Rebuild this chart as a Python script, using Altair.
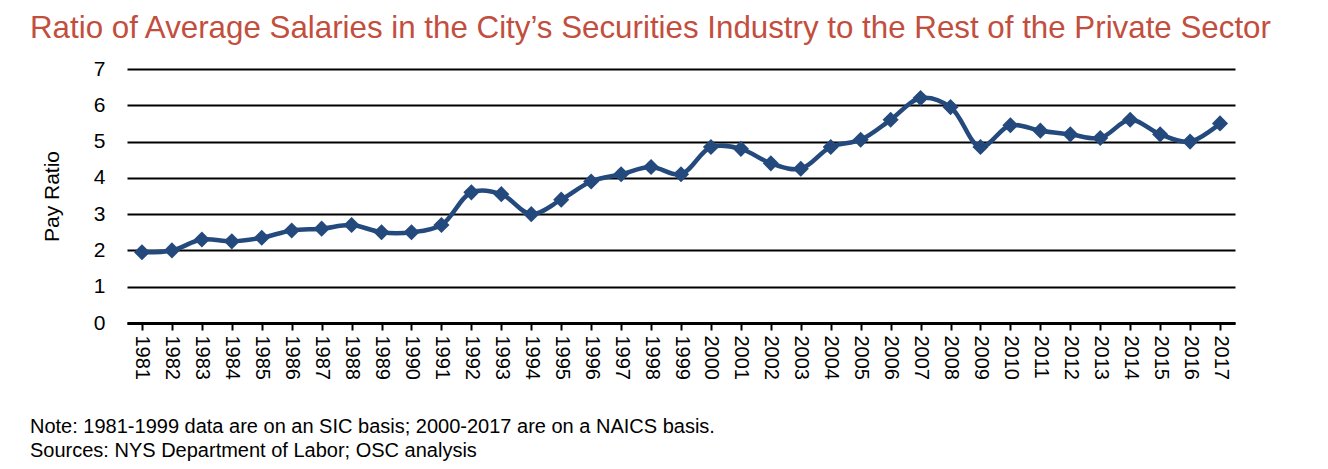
import altair as alt
import pandas as pd

years = [str(y) for y in range(1981, 2018)]
ratios = [1.95, 2.0, 2.3, 2.25, 2.35, 2.55, 2.6, 2.7, 2.5, 2.5,
          2.7, 3.6, 3.55, 3.0, 3.4, 3.9, 4.1, 4.3, 4.1, 4.85,
          4.8, 4.4, 4.25, 4.85, 5.05, 5.6, 6.2, 5.95, 4.85, 5.45,
          5.3, 5.2, 5.1, 5.6, 5.2, 5.0, 5.5]
y_ticks = [0, 1, 2, 3, 4, 5, 6, 7]
title_text = "Ratio of Average Salaries in the City\u2019s Securities Industry to the Rest of the Private Sector"
note_lines = ["Note: 1981-1999 data are on an SIC basis; 2000-2017 are on a NAICS basis.",
              "Sources: NYS Department of Labor; OSC analysis"]

FONT = "Liberation Sans"
BLUE = "#244A7D"

df = pd.DataFrame({"year": years, "ratio": ratios})
notes_df = pd.DataFrame({"t": ["\n".join(note_lines)]})

base = alt.Chart(df).encode(
    x=alt.X("year:O", scale=alt.Scale(type="point", padding=0.5),
            axis=alt.Axis(title=None, labelAngle=90, labelAlign="left", labelBaseline="middle",
                          labelFontSize=20, labelFont=FONT, labelColor="black", labelPadding=5,
                          domainColor="black", domainWidth=3, tickColor="black", tickWidth=2,
                          tickSize=7, grid=False)),
    y=alt.Y("ratio:Q", scale=alt.Scale(domain=[0, 7], nice=False),
            axis=alt.Axis(title="Pay Ratio", values=y_ticks, format="d", domain=False, ticks=False,
                          labelFontSize=21, labelFont=FONT, labelColor="black", labelPadding=22,
                          gridColor="black", gridWidth=2, gridOpacity=1,
                          titleFont=FONT, titleFontSize=21, titleFontWeight="normal", titleColor="black",
                          titleX=-69, titleY=127, titleAngle=-90, titleAlign="center",
                          titleBaseline="alphabetic")),
)

line = base.mark_line(color=BLUE, strokeWidth=4.5, interpolate="catmull-rom")
pts = base.mark_point(shape="diamond", filled=True, size=260, color=BLUE, opacity=1)

notes = alt.Chart(notes_df).mark_text(
    align="left", baseline="alphabetic", fontSize=20, font=FONT, color="black",
    lineBreak="\n", lineHeight=24
).encode(x=alt.value(-97), y=alt.value(364), text="t:N")

chart = alt.layer(line, pts, notes).properties(
    width=1108, height=254,
    title=alt.TitleParams(title_text, anchor="start", dx=-97, fontSize=31.3, font=FONT,
                          fontWeight="normal", color="#C24E3E", offset=14, frame="group",
                          limit=1290),
    padding={"left": 119, "top": 61, "right": 70, "bottom": 140},
    autosize=alt.AutoSizeParams(type="none"),
).configure_view(stroke=None)

chart.save("out.html", embed_options={"renderer": "svg", "actions": False})
